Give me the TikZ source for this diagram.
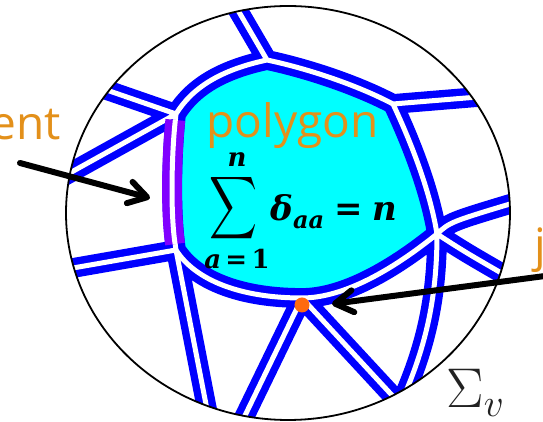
\RequirePackage{fix-cm}
\documentclass[tikz,border=0pt]{standalone}
\usepackage[no-math]{fontspec}
\usepackage{graphicx}
\usepackage{xcolor}
\usepackage{tikz}
\usetikzlibrary{arrows.meta}
\newfontfamily\labelfont{Open Sans}
\newfontfamily\rulefont{DejaVu Serif}
\definecolor{ribbonblue}{HTML}{0000FF}
\definecolor{facecyan}{HTML}{00FFFF}
\definecolor{segpurple}{HTML}{8000FF}
\definecolor{labelorange}{HTML}{E3901A}
\definecolor{dotorange}{HTML}{FF6A10}
\definecolor{sigmagray}{HTML}{222222}
\tikzset{
    ribbon/.style={
        draw=ribbonblue, double=white, double distance=2.5pt,
        line width=3.7pt, line join=round
    },
    segribbon/.style={
        ribbon, draw=segpurple,
        shorten <=3pt, shorten >=3pt
    },
    rim/.style={draw=black, line width=0.9pt},
    tag/.style={
        font=\labelfont\fontsize{23}{26}\selectfont, text=labelorange,
        inner sep=0pt
    },
    rulebig/.style={inner sep=0pt, font=\rulefont\bfseries\itshape\fontsize{17}{20}\selectfont},
    rulesmall/.style={inner sep=0pt, font=\rulefont\bfseries\itshape\fontsize{13}{15}\selectfont},
    sigmatag/.style={inner sep=0pt, text=sigmagray, font=\fontsize{28}{32}\selectfont},
    jdot/.style={circle, fill=dotorange, inner sep=0pt, minimum size=7.5pt},
    pointer/.style={-{Straight Barb[length=9pt,width=11pt,round]}, line width=3pt, line cap=round, color=black},
}
\begin{document}
\begin{tikzpicture}[x=0.5pt, y=-0.5pt]
    \useasboundingbox (0,0) rectangle (543,422);
    % vertices of the ribbon graph
    \coordinate (A) at (176,114);
    \coordinate (B) at (267,60);
    \coordinate (C) at (393,104);
    \coordinate (D) at (437,234);
    \coordinate (E) at (302,298);
    \coordinate (F) at (176,250);
    % free ends, beyond the rim
    \coordinate (a1) at (95,86);
    \coordinate (a2) at (50,184);
    \coordinate (b1) at (232,0);
    \coordinate (c1) at (490,96);
    \coordinate (d1) at (400,405);
    \coordinate (d2) at (520,201);
    \coordinate (d3) at (510,278);
    \coordinate (e1) at (238,430);
    \coordinate (e2) at (401,405);
    \coordinate (f1) at (50,272);
    \coordinate (f2) at (211,430);
    \begin{scope}
        \clip (288,213) ellipse [x radius=222, y radius=207];
        % the polygon face
        \fill[facecyan] (A) .. controls (192,88) and (220,70) .. (B)
            .. controls (305,68) and (355,84) .. (C)
            .. controls (410,140) and (430,190) .. (D)
            .. controls (395,268) and (345,298) .. (E)
            .. controls (240,298) and (195,280) .. (F)
            .. controls (170,210) and (172,150) .. (A) -- cycle;
        % ribbons
        \draw[ribbon] (A) .. controls (192,88) and (220,70) .. (B)
            .. controls (305,68) and (355,84) .. (C)
            .. controls (410,140) and (430,190) .. (D)
            .. controls (395,268) and (345,298) .. (E)
            .. controls (240,298) and (195,280) .. (F)
            .. controls (170,210) and (172,150) .. (A)
            (A) -- (a1) (A) -- (a2) (B) -- (b1) (C) -- (c1)
            (D) .. controls (450,222) .. (d2)
            (D) .. controls (465,252) .. (d3)
            (D) .. controls (437,300) and (425,350) .. (d1)
            (E) -- (e1) (E) -- (e2)
            (F) -- (f1) (F) -- (f2);
        \draw[segribbon] (F) .. controls (170,210) and (172,150) .. (A);
    \end{scope}
    \draw[rim] (288,213) ellipse [x radius=222, y radius=207];
    \node[jdot] (jn) at (302,305) {};
    % labels
    \node[tag, anchor=base east] (seg) at (61,140) {ent};
    \node[tag, anchor=base west] (poly) at (206,138) {polygon};
    \node[tag, anchor=base west] (junc) at (534,262) {j};
    % the trace formula
    \node[inner sep=0pt] (sumsign) at (234,208) {\resizebox*{24pt}{35pt}{$\displaystyle\sum$}};
    \node[rulesmall] (sumtop) at (237,160) {n};
    \node[rulesmall] (sumbottom) at (237,259) {a\,{\upshape=\,1}};
    \node[rulebig, anchor=base west] (sumbody) at (270,221) {δ\raisebox{-4pt}{\fontsize{12}{14}\selectfont aa}\hspace{5pt}{\upshape=}\hspace{5pt}n};
    \node[sigmatag, anchor=base west] (disk) at (446,408) {$\Sigma_v$};
    % pointers
    \coordinate (segtail) at (20,163);
    \coordinate (segtip) at (150,198);
    \coordinate (junctail) at (545,276);
    \coordinate (junctip) at (332,304);
    \draw[pointer] (segtail) -- (segtip);
    \draw[pointer] (junctail) -- (junctip);
\end{tikzpicture}
\end{document}
